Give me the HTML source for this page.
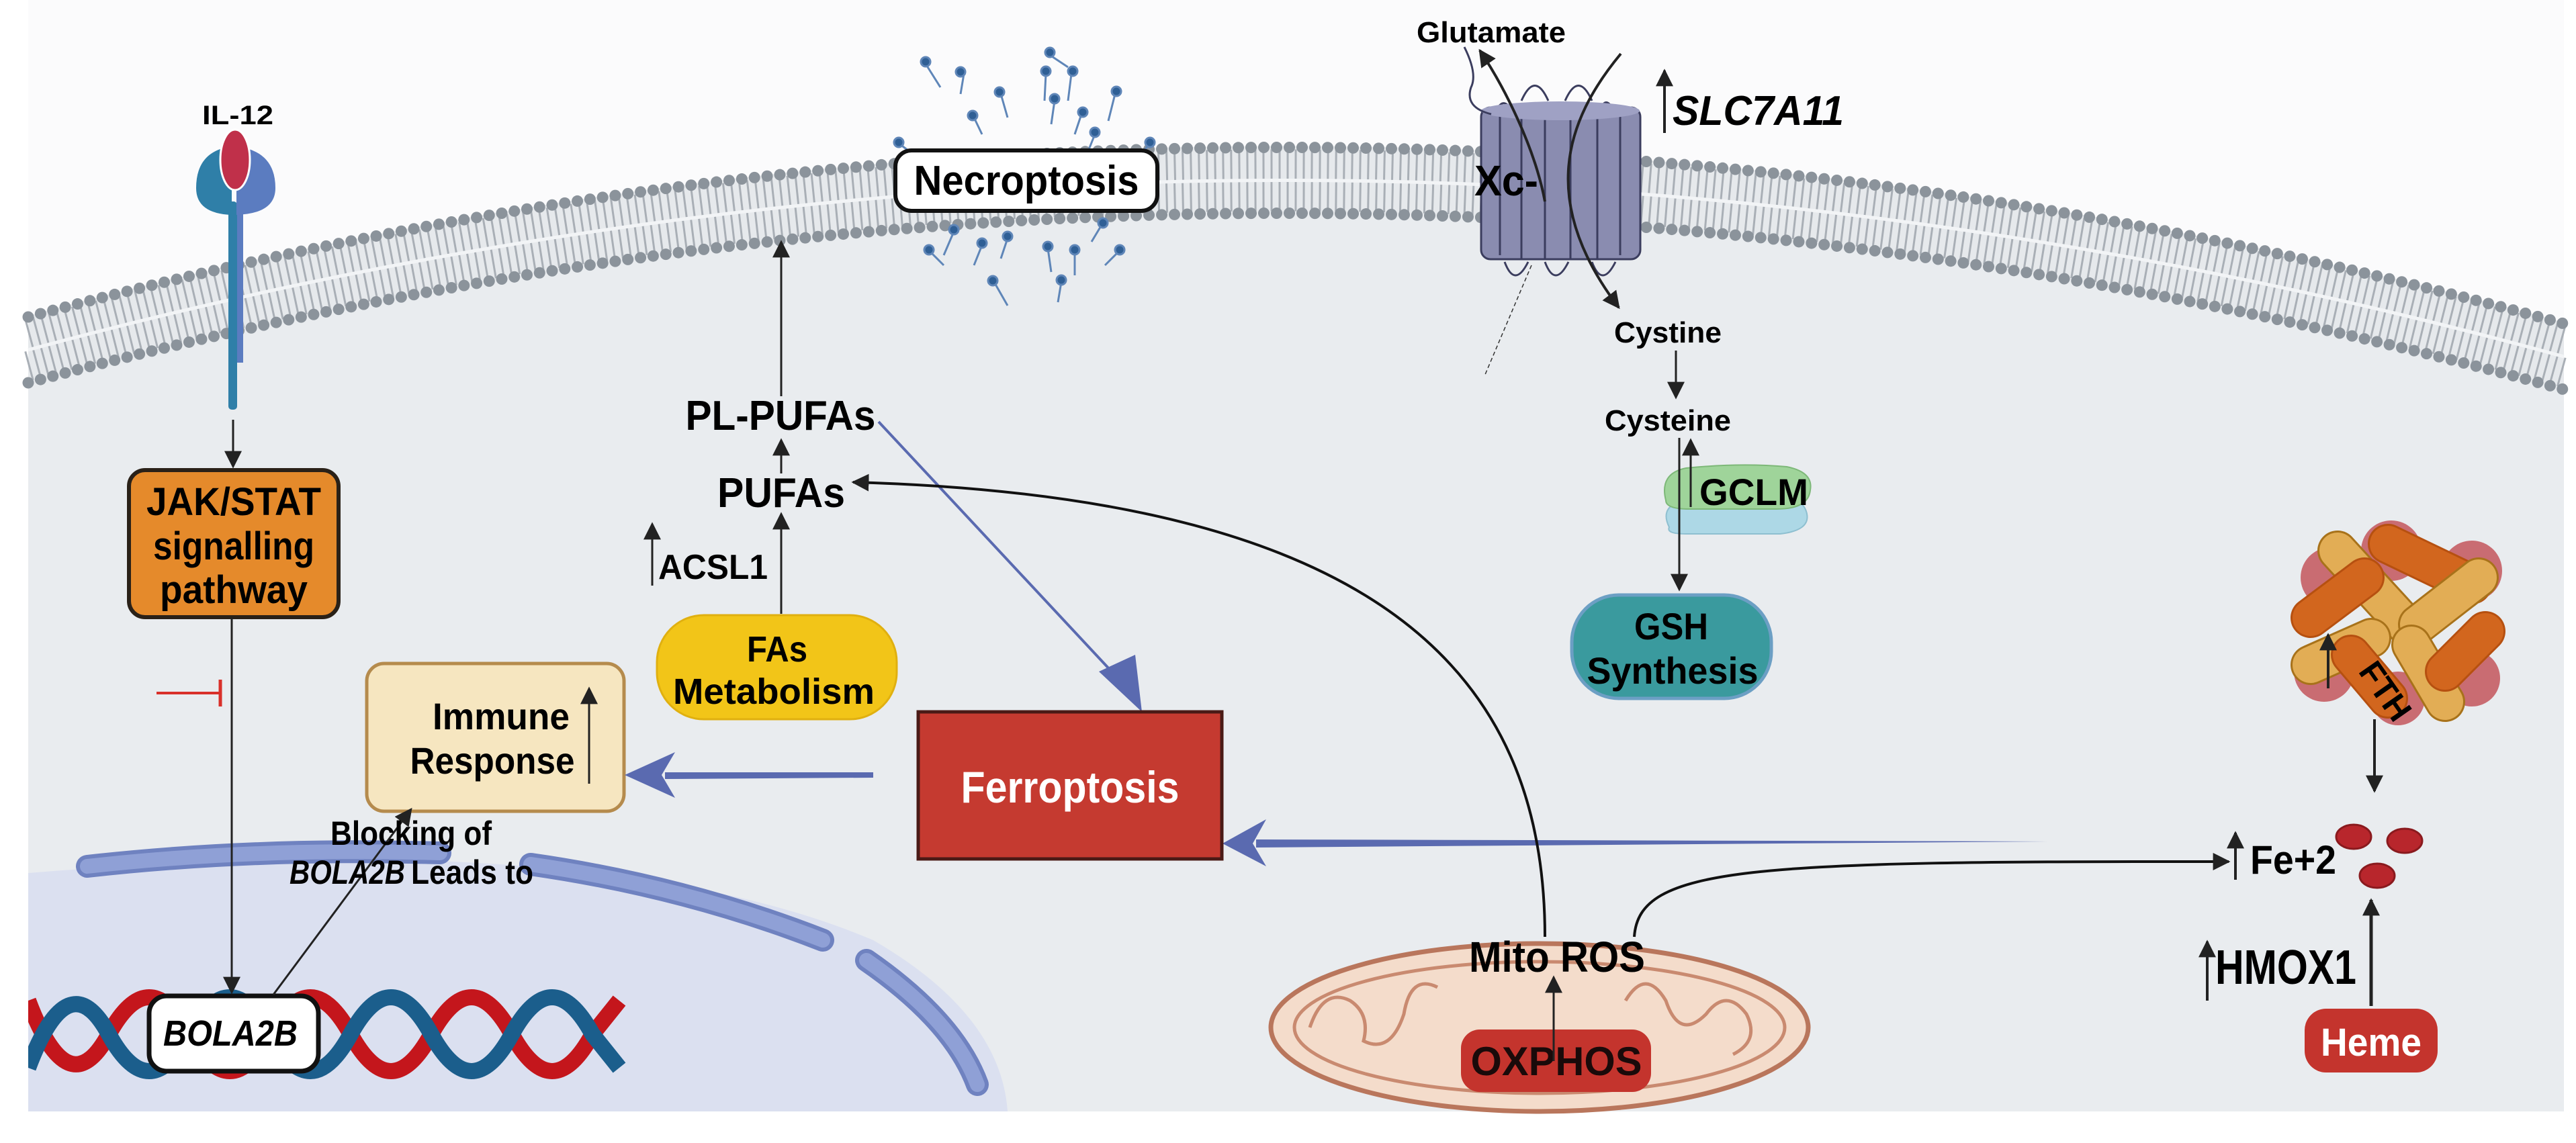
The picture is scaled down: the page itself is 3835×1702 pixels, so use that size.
<!DOCTYPE html>
<html><head><meta charset="utf-8"><style>
html,body{margin:0;padding:0;background:#fff;}
svg{display:block;}
text{font-family:"Liberation Sans",sans-serif;font-weight:bold;}
</style></head><body>
<svg width="3835" height="1702" viewBox="0 0 3835 1702" xmlns="http://www.w3.org/2000/svg">
<defs>
<marker id="a2" viewBox="0 0 10 10" refX="9" refY="5" markerWidth="26" markerHeight="26" orient="auto" markerUnits="userSpaceOnUse"><path d="M0,0 L10,5 L0,10 Z" fill="#222"/></marker>
<clipPath id="dnaclip"><rect x="42" y="1400" width="900" height="260"/></clipPath>
</defs>
<rect x="0" y="0" width="3835" height="1702" fill="#fff"/>
<rect x="42" y="0" width="3775" height="1655" fill="#fbfbfc"/>
<path d="M42,570 Q1930,60 3817,580 L3817,1655 L42,1655 Z" fill="#e9ecef"/>
<path d="M42,470 Q1930,-40 3817,480 L3817,580 Q1930,60 42,570 Z" fill="#e6e9ec"/>
<path d="M42,497 Q1930,-13 3817,507" fill="none" stroke="#a9afb6" stroke-width="44" stroke-dasharray="3 9"/>
<path d="M42,545 Q1930,35 3817,555" fill="none" stroke="#a9afb6" stroke-width="44" stroke-dasharray="3 9"/>
<path d="M42,521 Q1930,11 3817,531" fill="none" stroke="#f2f4f6" stroke-width="5"/>
<path d="M42,472 Q1930,-38 3817,482" fill="none" stroke="#8b939b" stroke-width="17" stroke-dasharray="0 19" stroke-linecap="round"/>
<path d="M42,570 Q1930,60 3817,580" fill="none" stroke="#8b939b" stroke-width="17" stroke-dasharray="0 19" stroke-linecap="round"/>

<path d="M42,1300 Q900,1230 1300,1400 Q1490,1510 1500,1655 L42,1655 Z" fill="#dbe0f0"/>
<g fill="none" stroke-linecap="round">
<path d="M130,1290 Q380,1262 655,1270" stroke="#6f82c0" stroke-width="34"/>
<path d="M130,1290 Q380,1262 655,1270" stroke="#8fa0d6" stroke-width="22"/>
<path d="M790,1287 Q1020,1320 1225,1400" stroke="#6f82c0" stroke-width="34"/>
<path d="M790,1287 Q1020,1320 1225,1400" stroke="#8fa0d6" stroke-width="22"/>
<path d="M1290,1430 Q1420,1520 1455,1615" stroke="#6f82c0" stroke-width="34"/>
<path d="M1290,1430 Q1420,1520 1455,1615" stroke="#8fa0d6" stroke-width="22"/>
</g>
<g fill="none" stroke-width="24" clip-path="url(#dnaclip)">
<path d="M2,1490 Q62,1650 122,1540 T242,1540 T362,1540 T482,1540 T602,1540 T722,1540 T842,1540 L882,1490" stroke="#c4161c" transform="translate(40,0)"/>
<path d="M2,1590 Q62,1430 122,1540 T242,1540 T362,1540 T482,1540 T602,1540 T722,1540 T842,1540 L882,1590" stroke="#1b5e8c" transform="translate(40,0)"/>
</g>
<rect x="222" y="1483" width="252" height="112" rx="26" fill="#fff" stroke="#111" stroke-width="7"/>
<text x="343" y="1557" font-size="54" font-style="italic" text-anchor="middle" textLength="200" lengthAdjust="spacingAndGlyphs">BOLA2B</text>

<rect x="340" y="300" width="13" height="310" fill="#2f7fa8" rx="5"/>
<rect x="353" y="300" width="9" height="240" fill="#5b7cc0"/>
<path d="M345,218 Q292,225 292,280 Q292,318 345,320 Z" fill="#2f7fa8"/>
<path d="M352,218 Q410,225 410,280 Q410,318 352,320 Z" fill="#5b7cc0"/>
<ellipse cx="350" cy="238" rx="22" ry="45" fill="#c0304a" stroke="#fff" stroke-width="3"/>
<text x="354" y="185" font-size="40" text-anchor="middle" textLength="106" lengthAdjust="spacingAndGlyphs">IL-12</text>

<line x1="347" y1="625" x2="347" y2="695" stroke="#222" stroke-width="3" marker-end="url(#a2)"/>
<rect x="192" y="700" width="312" height="219" rx="24" fill="#e58a2b" stroke="#2a2118" stroke-width="6"/>
<text x="348" y="767" font-size="58" text-anchor="middle" textLength="260" lengthAdjust="spacingAndGlyphs">JAK/STAT</text>
<text x="348" y="833" font-size="58" text-anchor="middle" textLength="240" lengthAdjust="spacingAndGlyphs">signalling</text>
<text x="348" y="898" font-size="58" text-anchor="middle" textLength="220" lengthAdjust="spacingAndGlyphs">pathway</text>
<line x1="345" y1="919" x2="345" y2="1478" stroke="#222" stroke-width="3" marker-end="url(#a2)"/>
<line x1="233" y1="1032" x2="328" y2="1032" stroke="#d9302a" stroke-width="4"/>
<line x1="328" y1="1012" x2="328" y2="1052" stroke="#d9302a" stroke-width="5"/>

<rect x="546" y="988" width="383" height="220" rx="26" fill="#f6e6c0" stroke="#b58b4d" stroke-width="5"/>
<text x="746" y="1086" font-size="56" text-anchor="middle" textLength="204" lengthAdjust="spacingAndGlyphs">Immune</text>
<text x="733" y="1152" font-size="56" text-anchor="middle" textLength="245" lengthAdjust="spacingAndGlyphs">Response</text>
<line x1="877" y1="1167" x2="877" y2="1025" stroke="#222" stroke-width="3" marker-end="url(#a2)"/>
<line x1="407" y1="1481" x2="612" y2="1205" stroke="#222" stroke-width="3" marker-end="url(#a2)"/>
<text x="612" y="1258" font-size="50" text-anchor="middle" textLength="240" lengthAdjust="spacingAndGlyphs">Blocking of</text>
<text x="431" y="1316" font-size="50" font-style="italic" textLength="172" lengthAdjust="spacingAndGlyphs">BOLA2B</text>
<text x="612" y="1316" font-size="50" textLength="182" lengthAdjust="spacingAndGlyphs">Leads to</text>

<rect x="978" y="916" width="357" height="155" rx="70" fill="#f2c518" stroke="#e0b010" stroke-width="3"/>
<text x="1157" y="985" font-size="54" text-anchor="middle" textLength="90" lengthAdjust="spacingAndGlyphs">FAs</text>
<text x="1152" y="1048" font-size="54" text-anchor="middle" textLength="300" lengthAdjust="spacingAndGlyphs">Metabolism</text>
<line x1="1163" y1="914" x2="1163" y2="765" stroke="#222" stroke-width="3" marker-end="url(#a2)"/>
<text x="1163" y="755" font-size="62" text-anchor="middle" textLength="190" lengthAdjust="spacingAndGlyphs">PUFAs</text>
<line x1="1163" y1="705" x2="1163" y2="655" stroke="#222" stroke-width="3" marker-end="url(#a2)"/>
<text x="1162" y="640" font-size="62" text-anchor="middle" textLength="283" lengthAdjust="spacingAndGlyphs">PL-PUFAs</text>
<line x1="1163" y1="590" x2="1163" y2="360" stroke="#222" stroke-width="3" marker-end="url(#a2)"/>
<line x1="971" y1="872" x2="971" y2="780" stroke="#222" stroke-width="3" marker-end="url(#a2)"/>
<text x="980" y="862" font-size="52" textLength="163" lengthAdjust="spacingAndGlyphs">ACSL1</text>

<g stroke="#5f86b8" stroke-width="3" fill="#2f5f95">
<g><line x1="1378" y1="95" x2="1400" y2="130"/><circle cx="1378" cy="92" r="7"/></g>
<g><line x1="1560" y1="80" x2="1590" y2="100"/><circle cx="1563" cy="78" r="7"/></g>
<g><line x1="1435" y1="110" x2="1430" y2="140"/><circle cx="1430" cy="107" r="7"/></g>
<g><line x1="1557" y1="110" x2="1555" y2="150"/><circle cx="1557" cy="106" r="7"/></g>
<g><line x1="1595" y1="110" x2="1590" y2="150"/><circle cx="1597" cy="106" r="7"/></g>
<g><line x1="1490" y1="140" x2="1500" y2="175"/><circle cx="1488" cy="137" r="7"/></g>
<g><line x1="1570" y1="150" x2="1565" y2="185"/><circle cx="1570" cy="147" r="7"/></g>
<g><line x1="1660" y1="140" x2="1650" y2="180"/><circle cx="1662" cy="136" r="7"/></g>
<g><line x1="1450" y1="175" x2="1462" y2="200"/><circle cx="1448" cy="172" r="7"/></g>
<g><line x1="1610" y1="170" x2="1600" y2="200"/><circle cx="1612" cy="167" r="7"/></g>
<g><line x1="1630" y1="200" x2="1620" y2="225"/><circle cx="1630" cy="197" r="7"/></g>
<g><line x1="1420" y1="345" x2="1405" y2="380"/><circle cx="1420" cy="342" r="7"/></g>
<g><line x1="1462" y1="365" x2="1450" y2="395"/><circle cx="1462" cy="362" r="7"/></g>
<g><line x1="1560" y1="370" x2="1565" y2="405"/><circle cx="1560" cy="367" r="7"/></g>
<g><line x1="1600" y1="375" x2="1600" y2="410"/><circle cx="1600" cy="372" r="7"/></g>
<g><line x1="1500" y1="355" x2="1490" y2="385"/><circle cx="1500" cy="352" r="7"/></g>
<g><line x1="1385" y1="375" x2="1405" y2="395"/><circle cx="1383" cy="372" r="7"/></g>
<g><line x1="1665" y1="375" x2="1645" y2="395"/><circle cx="1667" cy="372" r="7"/></g>
<g><line x1="1480" y1="420" x2="1500" y2="455"/><circle cx="1478" cy="418" r="7"/></g>
<g><line x1="1580" y1="420" x2="1575" y2="450"/><circle cx="1580" cy="417" r="7"/></g>
<g><line x1="1640" y1="335" x2="1625" y2="360"/><circle cx="1642" cy="332" r="7"/></g>
<g><line x1="1340" y1="215" x2="1360" y2="230"/><circle cx="1338" cy="212" r="7"/></g>
<g><line x1="1710" y1="215" x2="1700" y2="230"/><circle cx="1712" cy="212" r="7"/></g>
</g>
<rect x="1333" y="224" width="390" height="90" rx="24" fill="#fff" stroke="#111" stroke-width="6"/>
<text x="1528" y="290" font-size="62" text-anchor="middle" textLength="335" lengthAdjust="spacingAndGlyphs">Necroptosis</text>

<g stroke="#3b3d5e" stroke-width="3">
<path d="M2225,175 q10,-40 30,-5 M2265,150 q20,-45 40,0 M2330,150 q20,-45 40,0 M2380,170 q10,-35 25,0 M2290,180 q10,-30 25,0" fill="none"/>
<path d="M2240,390 q15,40 35,0 M2300,390 q15,40 35,0 M2370,390 q15,40 35,0" fill="none"/>
<rect x="2205" y="160" width="237" height="226" rx="14" fill="#8a8cb0"/>
<line x1="2233" y1="170" x2="2233" y2="380"/><line x1="2265" y1="175" x2="2265" y2="386"/><line x1="2300" y1="178" x2="2300" y2="386"/>
<line x1="2338" y1="178" x2="2338" y2="386"/><line x1="2378" y1="175" x2="2378" y2="386"/><line x1="2412" y1="170" x2="2412" y2="380"/>
</g>
<ellipse cx="2323" cy="165" rx="118" ry="14" fill="#9fa1c4"/>
<path d="M2180,70 q20,40 10,60 q-10,30 30,40" fill="none" stroke="#3b3d5e" stroke-width="3"/>
<path d="M2300,300 C2285,220 2240,130 2203,75" fill="none" stroke="#222" stroke-width="4" marker-end="url(#a2)"/>
<path d="M2413,80 C2330,180 2290,300 2410,458" fill="none" stroke="#222" stroke-width="4" marker-end="url(#a2)"/>
<path d="M2280,395 L2210,560" fill="none" stroke="#333" stroke-width="1.5" stroke-dasharray="6 4"/>
<text x="2195" y="291" font-size="64" textLength="95" lengthAdjust="spacingAndGlyphs">Xc-</text>
<text x="2220" y="63" font-size="44" text-anchor="middle" textLength="222" lengthAdjust="spacingAndGlyphs">Glutamate</text>
<line x1="2478" y1="198" x2="2478" y2="105" stroke="#222" stroke-width="4" marker-end="url(#a2)"/>
<text x="2490" y="186" font-size="62" font-style="italic" textLength="255" lengthAdjust="spacingAndGlyphs">SLC7A11</text>

<text x="2483" y="510" font-size="44" text-anchor="middle" textLength="160" lengthAdjust="spacingAndGlyphs">Cystine</text>
<line x1="2495" y1="522" x2="2495" y2="592" stroke="#222" stroke-width="3" marker-end="url(#a2)"/>
<text x="2483" y="641" font-size="44" text-anchor="middle" textLength="188" lengthAdjust="spacingAndGlyphs">Cysteine</text>
<path d="M2485,785 q-15,-30 20,-40 q60,-10 140,-5 q40,0 45,25 q5,25 -40,30 l-140,0 q-30,0 -25,-10 z" fill="#add8e6" stroke="#8ebfd0" stroke-width="2"/>
<path d="M2480,745 q-10,-40 30,-48 q80,-8 150,-2 q40,8 35,35 q-3,28 -50,28 l-130,0 q-35,0 -35,-13 z" fill="#9fd49a" stroke="#7db878" stroke-width="2"/>
<line x1="2500" y1="652" x2="2500" y2="878" stroke="#222" stroke-width="3" marker-end="url(#a2)"/>
<line x1="2517" y1="755" x2="2517" y2="655" stroke="#222" stroke-width="3" marker-end="url(#a2)"/>
<text x="2530" y="752" font-size="56" textLength="162" lengthAdjust="spacingAndGlyphs">GCLM</text>
<rect x="2340" y="886" width="297" height="154" rx="70" fill="#3a9a9e" stroke="#6c9fc4" stroke-width="5"/>
<text x="2488" y="952" font-size="56" text-anchor="middle" textLength="110" lengthAdjust="spacingAndGlyphs">GSH</text>
<text x="2490" y="1018" font-size="56" text-anchor="middle" textLength="255" lengthAdjust="spacingAndGlyphs">Synthesis</text>

<path d="M1308,628 L1655,1000" stroke="#5a6ab0" stroke-width="4" fill="none"/>
<path d="M1636,1000 L1700,1060 L1690,975 Z" fill="#5a6ab0"/>
<path d="M1300,1150 L990,1150 L990,1160 L1300,1158 Z" fill="#5a6ab0"/>
<path d="M1005,1120 L930,1154 L1005,1188 L985,1154 Z" fill="#5a6ab0"/>
<path d="M3050,1253 L1870,1250 L1870,1262 Z" fill="#5a6ab0"/>
<path d="M1885,1220 L1820,1256 L1885,1290 L1865,1256 Z" fill="#5a6ab0"/>
<rect x="1367" y="1060" width="452" height="219" fill="#c53a30" stroke="#4a1a16" stroke-width="5"/>
<text x="1593" y="1195" font-size="66" fill="#fff" text-anchor="middle" textLength="325" lengthAdjust="spacingAndGlyphs">Ferroptosis</text>

<ellipse cx="2292" cy="1530" rx="400" ry="125" fill="#f4dccb" stroke="#b9765c" stroke-width="7"/>
<ellipse cx="2292" cy="1530" rx="365" ry="98" fill="none" stroke="#c98a70" stroke-width="5"/>
<path d="M1950,1530 q20,-60 60,-40 q30,20 20,60 q40,20 60,-40 q10,-60 50,-40 M2420,1490 q30,-50 60,0 q20,60 60,20 q30,-40 60,0 q20,40 -20,60" fill="none" stroke="#c98a70" stroke-width="5"/>
<rect x="2175" y="1533" width="283" height="93" rx="28" fill="#c4342d"/>
<text x="2317" y="1601" font-size="60" fill="#1a0a0a" text-anchor="middle" textLength="255" lengthAdjust="spacingAndGlyphs">OXPHOS</text>
<line x1="2313" y1="1580" x2="2313" y2="1455" stroke="#222" stroke-width="3" marker-end="url(#a2)"/>
<text x="2318" y="1447" font-size="64" text-anchor="middle" textLength="262" lengthAdjust="spacingAndGlyphs">Mito ROS</text>
<path d="M2300,1395 C2300,1000 2050,740 1270,718" fill="none" stroke="#111" stroke-width="4" marker-end="url(#a2)"/>
<path d="M2433,1395 C2440,1290 2600,1282 3318,1283" fill="none" stroke="#111" stroke-width="4" marker-end="url(#a2)"/>

<g>
<circle cx="3470" cy="860" r="45" fill="#c96c72"/><circle cx="3680" cy="850" r="45" fill="#c96c72"/>
<circle cx="3460" cy="1000" r="45" fill="#c96c72"/><circle cx="3680" cy="1010" r="42" fill="#c96c72"/>
<circle cx="3560" cy="820" r="45" fill="#c96c72"/><circle cx="3570" cy="1040" r="40" fill="#c96c72"/>
<g stroke-linecap="round" stroke-width="60">
<line x1="3480" y1="820" x2="3590" y2="940" stroke="#a8721a"/><line x1="3480" y1="820" x2="3590" y2="940" stroke="#e2ad55" stroke-width="54"/>
<line x1="3555" y1="810" x2="3680" y2="870" stroke="#b65010"/><line x1="3555" y1="810" x2="3680" y2="870" stroke="#d2661e" stroke-width="54"/>
<line x1="3600" y1="930" x2="3690" y2="860" stroke="#a8721a"/><line x1="3600" y1="930" x2="3690" y2="860" stroke="#e2ad55" stroke-width="54"/>
<line x1="3440" y1="920" x2="3520" y2="860" stroke="#b65010"/><line x1="3440" y1="920" x2="3520" y2="860" stroke="#d2661e" stroke-width="54"/>
<line x1="3440" y1="990" x2="3530" y2="950" stroke="#a8721a"/><line x1="3440" y1="990" x2="3530" y2="950" stroke="#e2ad55" stroke-width="54"/>
<line x1="3590" y1="960" x2="3640" y2="1045" stroke="#a8721a"/><line x1="3590" y1="960" x2="3640" y2="1045" stroke="#e2ad55" stroke-width="54"/>
<line x1="3640" y1="1000" x2="3700" y2="940" stroke="#b65010"/><line x1="3640" y1="1000" x2="3700" y2="940" stroke="#d2661e" stroke-width="54"/>
<line x1="3500" y1="975" x2="3555" y2="1040" stroke="#b65010"/><line x1="3500" y1="975" x2="3555" y2="1040" stroke="#d2661e" stroke-width="54"/>
</g>
<text x="0" y="0" font-size="50" transform="translate(3510,1000) rotate(55)" textLength="95" lengthAdjust="spacingAndGlyphs">FTH</text>
<line x1="3466" y1="1025" x2="3466" y2="945" stroke="#222" stroke-width="4" marker-end="url(#a2)"/>
</g>
<line x1="3535" y1="1071" x2="3535" y2="1178" stroke="#222" stroke-width="4" marker-end="url(#a2)"/>
<g fill="#b8262c" stroke="#8a1a1e" stroke-width="3">
<ellipse cx="3504" cy="1246" rx="26" ry="18"/><ellipse cx="3580" cy="1252" rx="26" ry="18"/><ellipse cx="3539" cy="1304" rx="26" ry="18"/>
</g>
<line x1="3328" y1="1310" x2="3328" y2="1240" stroke="#222" stroke-width="4" marker-end="url(#a2)"/>
<text x="3350" y="1301" font-size="60" textLength="128" lengthAdjust="spacingAndGlyphs">Fe+2</text>
<line x1="3286" y1="1490" x2="3286" y2="1402" stroke="#222" stroke-width="4" marker-end="url(#a2)"/>
<text x="3298" y="1465" font-size="72" textLength="210" lengthAdjust="spacingAndGlyphs">HMOX1</text>
<line x1="3530" y1="1498" x2="3530" y2="1340" stroke="#222" stroke-width="5" marker-end="url(#a2)"/>
<rect x="3431" y="1502" width="198" height="95" rx="32" fill="#c4342d"/>
<text x="3530" y="1572" font-size="58" fill="#fff" text-anchor="middle" textLength="150" lengthAdjust="spacingAndGlyphs">Heme</text>
</svg>
</body></html>
